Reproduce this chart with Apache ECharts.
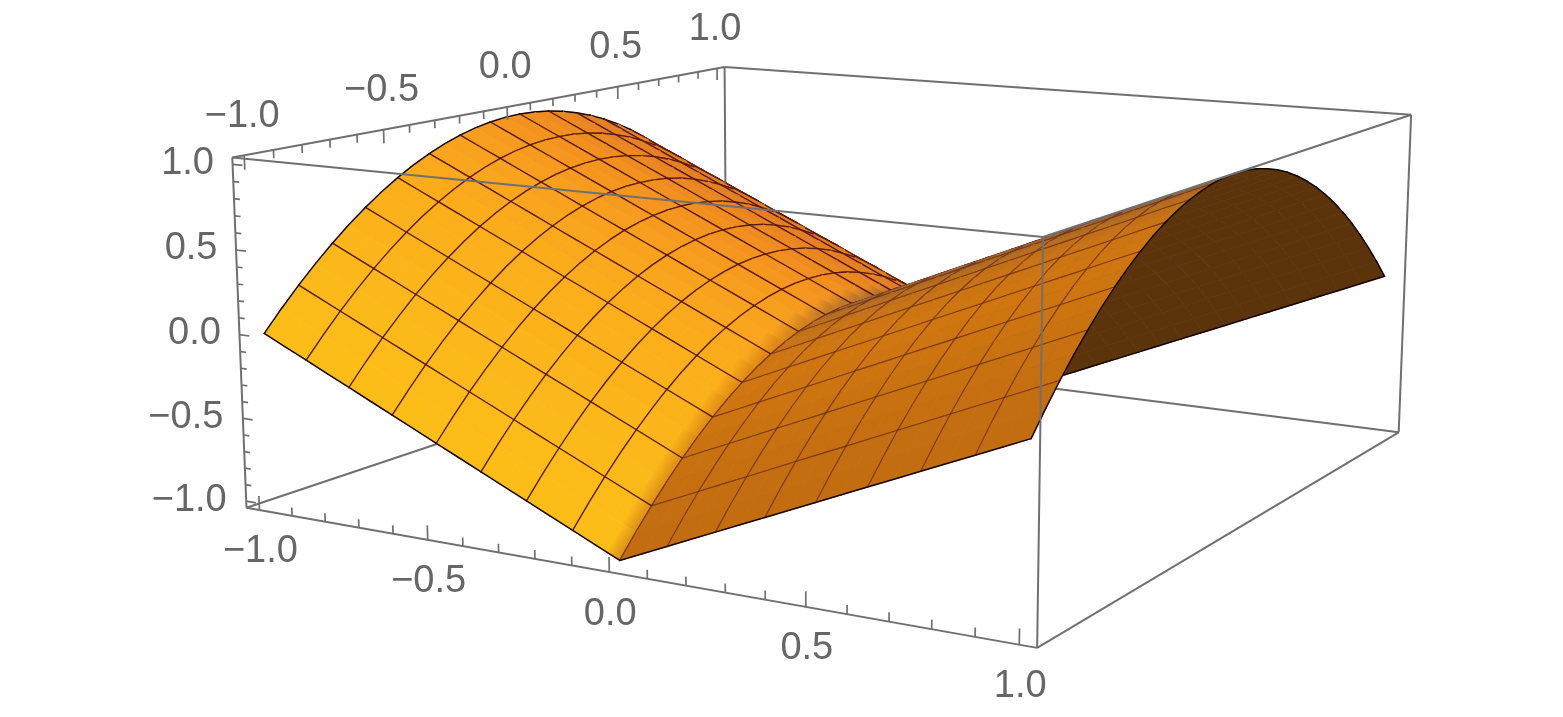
<!DOCTYPE html>
<html><head><meta charset="utf-8">
<style>html,body{margin:0;padding:0;background:#fff}#c{width:1563px;height:717px}</style>
<script src="https://cdn.jsdelivr.net/npm/echarts@6/dist/echarts.min.js"></script>
</head><body><div id="c"></div>
<script>
// ---- data ----
const xStations=[-1,-0.9375,-0.875,-0.8125,-0.75,-0.6875,-0.625,-0.5625,-0.5,-0.4375,-0.375,-0.3125,-0.25,-0.1875,-0.125,-0.0625,0,0.0625,0.125,0.1875,0.25,0.3125,0.375,0.4375,0.5,0.5625,0.625,0.6875,0.75,0.8125,0.875,0.9375,1];
const yStations=xStations;
// height gained along x (V shaped valley) at each x station
const riseAlongX=[1,0.9375,0.875,0.8125,0.75,0.6875,0.625,0.5625,0.5,0.4375,0.375,0.3125,0.25,0.1875,0.125,0.0625,0,0.0625,0.125,0.1875,0.25,0.3125,0.375,0.4375,0.5,0.5625,0.625,0.6875,0.75,0.8125,0.875,0.9375,1];
// height lost along y (arch) at each y station
const sagAlongY=[1,0.8789,0.7656,0.6602,0.5625,0.4727,0.3906,0.3164,0.25,0.1914,0.1406,0.0977,0.0625,0.0352,0.0156,0.0039,0,0.0039,0.0156,0.0352,0.0625,0.0977,0.1406,0.1914,0.25,0.3164,0.3906,0.4727,0.5625,0.6602,0.7656,0.8789,1];
const tickValues=[-1,-0.9,-0.8,-0.7,-0.6,-0.5,-0.4,-0.3,-0.2,-0.1,0,0.1,0.2,0.3,0.4,0.5,0.6,0.7,0.8,0.9,1];
const labelValues=[-1,-0.5,0,0.5,1];
const labelTexts=['\u22121.0','\u22120.5','0.0','0.5','1.0'];
const boxLimit=1.04;
// ---- styling ----
const leftRoofColours=[[-1,253,190,25],[-0.5,251,174,27],[-0.25,248,160,30],[0,243,146,30],[0.3,228,128,35],[1,228,128,35]];
const rightRoofColours=[[-1,192,108,16],[-0.5,208,119,16],[-0.3,198,114,22],[-0.15,172,106,38],[0,150,100,50],[0.25,140,92,50],[1,140,92,50]];
const undersideColour=[92,52,12];
const leftMesh='rgba(72,10,14,0.85)',rightMesh='rgba(88,30,30,0.6)',edgeColour='#140404',boxColour='#707070',textColour='#666666';
// camera calibration: where the eight box corners fall in the 1563x717 frame
const cornerWorld=[[-1,-1,-1],[1,-1,-1],[1,1,-1],[-1,1,-1],[-1,-1,1],[1,-1,1],[1,1,1],[-1,1,1]];
const cornerFrame=[[247,508],[1037,648],[1399,432],[726,347],[232,157],[1043,237],[1411,115],[725,67]];

function solve(A,b){const n=b.length;const M=A.map((r,i)=>r.concat(b[i]));
 for(let c=0;c<n;c++){let p=c;for(let r=c+1;r<n;r++)if(Math.abs(M[r][c])>Math.abs(M[p][c]))p=r;[M[c],M[p]]=[M[p],M[c]];
  for(let r=0;r<n;r++){if(r===c)continue;const f=M[r][c]/M[c][c];for(let k=c;k<=n;k++)M[r][k]-=f*M[c][k];}}
 return M.map((r,i)=>r[n]/r[i]);}
const cam=(function(){const rows=[],rhs=[];
 cornerWorld.forEach((w,i)=>{const X=w[0]*boxLimit,Y=w[1]*boxLimit,Z=w[2]*boxLimit,u=cornerFrame[i][0],v=cornerFrame[i][1];
  rows.push([X,Y,Z,1,0,0,0,0,-u*X,-u*Y,-u*Z]);rhs.push(u);
  rows.push([0,0,0,0,X,Y,Z,1,-v*X,-v*Y,-v*Z]);rhs.push(v);});
 const N=11,A=[],b=[];for(let i=0;i<N;i++){A.push(new Array(N).fill(0));b.push(0);
  rows.forEach((r,k)=>{for(let j=0;j<N;j++)A[i][j]+=r[i]*r[j];b[i]+=r[i]*rhs[k];});}
 return solve(A,b);})();
function depth(p){return cam[8]*p[0]+cam[9]*p[1]+cam[10]*p[2]+1;}
function project(p){const w=depth(p);return [(cam[0]*p[0]+cam[1]*p[1]+cam[2]*p[2]+cam[3])/w,(cam[4]*p[0]+cam[5]*p[1]+cam[6]*p[2]+cam[7])/w];}
function node(i,j){return [xStations[i],yStations[j],riseAlongX[i]-sagAlongY[j]];}
function ramp(stops,y){for(let k=1;k<stops.length;k++){if(y<=stops[k][0]){const a=stops[k-1],b=stops[k],t=(y-a[0])/(b[0]-a[0]);return [1,2,3].map(c=>a[c]+(b[c]-a[c])*t);}}return stops[stops.length-1].slice(1);}
const css=c=>'rgb('+c.map(v=>Math.round(v)).join(',')+')';
const mix=(a,b,t)=>a.map((v,k)=>v+(b[k]-v)*t);

// painter's order: farthest quad first
const quadData=[];
for(let i=0;i<xStations.length-1;i++)for(let j=0;j<yStations.length-1;j++){
 const d=(depth(node(i,j))+depth(node(i+1,j))+depth(node(i+1,j+1))+depth(node(i,j+1)))/4;
 quadData.push([i,j,d]);}
quadData.sort((a,b)=>b[2]-a[2]);
const creaseCell=(xStations.length-1)/2-1;

function renderQuad(params,api){
 const i=api.value(0),j=api.value(1);
 const w=[node(i,j),node(i+1,j),node(i+1,j+1),node(i,j+1)];
 const s=w.map(p=>api.coord(project(p)));
 let area=0;for(let k=0;k<4;k++){const a=s[k],b=s[(k+1)%4];area+=a[0]*b[1]-b[0]*a[1];}
 const yMid=(yStations[j]+yStations[j+1])/2,xMid=(xStations[i]+xStations[i+1])/2;
 const under=area>0;
 let col=under?undersideColour:ramp(xMid<0?leftRoofColours:rightRoofColours,yMid);
 let fill=css(col);
 const solid=fill;
 if(!under&&i===creaseCell){
  // soft shading just before the valley crease
  const a=api.coord(project(node(i,j))),b=api.coord(project(node(i+1,j)));
  fill={type:'linear',global:true,x:a[0],y:a[1],x2:b[0],y2:b[1],colorStops:[{offset:0,color:solid},{offset:0.4,color:solid},{offset:1,color:css(mix(col,ramp(rightRoofColours,yMid),0.6))}]};
 }
 const kids=[{type:'polygon',shape:{points:s},style:{fill:fill,stroke:fill,lineWidth:0.8},silent:true}];
 const line=(a,b,c,lw)=>kids.push({type:'line',shape:{x1:a[0],y1:a[1],x2:b[0],y2:b[1]},style:{stroke:c,lineWidth:lw,lineCap:'round'},silent:true});
 const last=xStations.length-1;
 const meshC=xMid<0?leftMesh:rightMesh,meshW=xMid<0?1.3:1.1;
 // mesh on every second station, outline on the rim; the dark underside shows only its rim
 const style=k=>k===0||k===last?[edgeColour,1.5]:(!under&&k%2===0?[meshC,meshW]:null);
 let e;
 if((e=style(j)))line(s[0],s[1],e[0],e[1]);
 if((e=style(j+1)))line(s[3],s[2],e[0],e[1]);
 if((e=style(i)))line(s[0],s[3],e[0],e[1]);
 if((e=style(i+1)))line(s[1],s[2],e[0],e[1]);
 return {type:'group',children:kids};
}
// box edges as pairs of corner indices
const backEdges=[[0,3],[3,2],[3,7]];
const frontEdges=[[0,1],[1,2],[0,4],[1,5],[2,6],[4,5],[5,6],[6,7],[7,4]];
const L=boxLimit;
function renderEdge(params,api){
 const a=cornerWorld[api.value(0)].map(v=>v*L),b=cornerWorld[api.value(1)].map(v=>v*L);
 const p=api.coord(project(a)),q=api.coord(project(b));
 return {type:'line',shape:{x1:p[0],y1:p[1],x2:q[0],y2:q[1]},style:{stroke:boxColour,lineWidth:2},silent:true};
}
const tickData=[];
tickValues.forEach(v=>{const major=labelValues.indexOf(v)>=0?1:0;tickData.push([0,v,major],[1,v,major],[2,v,major]);});
function renderTick(params,api){
 const axis=api.value(0),v=api.value(1),major=api.value(2);
 let a,b;
 if(axis===0){a=[v,-L,-L];b=[v,-L,-L+(major?0.085:0.05)];}
 else if(axis===1){a=[-L,v,L];b=[-L,v,L-(major?0.085:0.05)];}
 else{a=[-L,-L,v];b=[-L+(major?0.03:0.018),-L,v];}
 const p=api.coord(project(a)),q=api.coord(project(b));
 return {type:'line',shape:{x1:p[0],y1:p[1],x2:q[0],y2:q[1]},style:{stroke:boxColour,lineWidth:1.7},silent:true};
}
const labelData=[];
labelValues.forEach((v,k)=>{labelData.push([0,v,k],[1,v,k],[2,v,k]);});
function renderLabel(params,api){
 const axis=api.value(0),v=api.value(1),k=api.value(2);
 let a,dx,dy;
 if(axis===0){a=[v,-L,-L];dx=1;dy=42;}
 else if(axis===1){a=[-L,v,L];dx=-2;dy=-39;}
 else{a=[-L,-L,v];dx=v<0?-57:-45;dy=-1;}
 const p=api.coord(project(a));
 return {type:'text',x:p[0]+dx,y:p[1]+dy,style:{text:labelTexts[k],fill:textColour,font:'38px "Liberation Sans"',align:'center',verticalAlign:'middle'},silent:true};
}
const chart=echarts.init(document.getElementById('c'),null,{renderer:'canvas'});
const custom=(name,data,fn,z)=>({type:'custom',name:name,data:data,renderItem:fn,z:z,clip:false,silent:true,animation:false,progressive:0,encode:{x:[],y:[]}});
chart.setOption({
 animation:false,backgroundColor:'#ffffff',tooltip:{show:false},
 grid:{left:0,right:0,top:0,bottom:0},
 xAxis:{type:'value',min:0,max:1563,show:false},
 yAxis:{type:'value',min:0,max:717,inverse:true,show:false},
 series:[
  custom('box back',backEdges,renderEdge,1),
  custom('surface',quadData,renderQuad,2),
  custom('box front',frontEdges,renderEdge,3),
  custom('ticks',tickData,renderTick,3),
  custom('labels',labelData,renderLabel,4)
 ]});
</script></body></html>
